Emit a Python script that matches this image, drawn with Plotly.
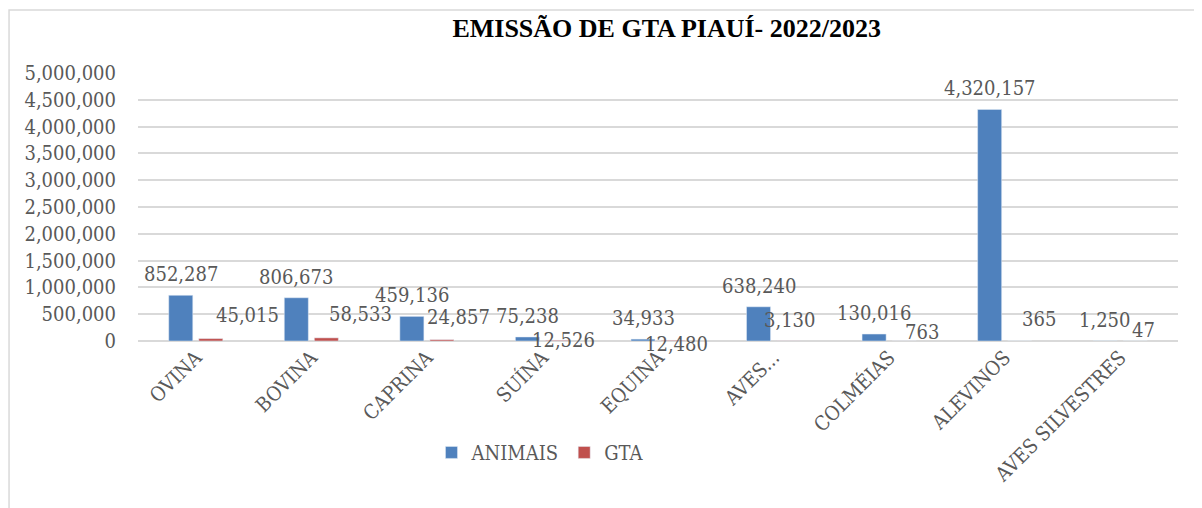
import plotly.graph_objects as go

categorias = ["OVINA", "BOVINA", "CAPRINA", "SUÍNA", "EQUINA", "AVES...",
              "COLMÉIAS", "ALEVINOS", "AVES SILVESTRES"]
animais = [852287, 806673, 459136, 75238, 34933, 638240, 130016, 4320157, 1250]
gta = [45015, 58533, 24857, 12526, 12480, 3130, 763, 365, 47]

y_ticks = list(range(0, 5000001, 500000))

# deslocamento (px) dos rótulos de GTA, como no original
gta_dx = [18, 16, -2, -12, -15, -12, 14, 15, 10]
gta_dy = [24, 24, 23, 0, -4, 21, 9, 22, 11]

font_serif = "DejaVu Serif Condensed, Liberation Serif, serif"
cinza = "#595959"
tam = 20

fig = go.Figure()

fig.add_trace(go.Bar(name="ANIMAIS", x=categorias, y=animais,
                     marker=dict(color="#4f81bd")))
fig.add_trace(go.Bar(name="GTA", x=categorias, y=gta,
                     marker=dict(color="#c0504d")))

# rótulos de dados
for cat, v in zip(categorias, animais):
    fig.add_annotation(x=cat, y=v, xref="x", yref="y", text=f"{v:,}",
                       showarrow=False, xshift=-15, yshift=21,
                       xanchor="center", yanchor="middle",
                       font=dict(family=font_serif, size=tam, color=cinza))

for cat, v, dx, dy in zip(categorias, gta, gta_dx, gta_dy):
    fig.add_annotation(x=cat, y=v, xref="x", yref="y", text=f"{v:,}",
                       showarrow=False, xshift=dx, yshift=dy,
                       xanchor="left", yanchor="middle",
                       font=dict(family=font_serif, size=tam, color=cinza))

fig.update_layout(
    width=1202, height=508,
    margin=dict(l=130, r=32, t=65, b=175),
    paper_bgcolor="white", plot_bgcolor="white",
    barmode="group", bargap=0.48, bargroupgap=0.2,
    title=dict(text="<b>EMISSÃO DE GTA PIAUÍ- 2022/2023</b>",
               x=0.548, xanchor="center", y=0.961, yanchor="middle",
               font=dict(family="Liberation Serif", size=26, color="black")),
    font=dict(family=font_serif, size=tam, color=cinza),
    showlegend=True,
    legend=dict(orientation="h", x=0.387, xanchor="center", y=-0.343, yanchor="top",
                font=dict(family="DejaVu Serif Condensed", size=tam, color=cinza),
                itemwidth=30, traceorder="normal"),
)

fig.update_yaxes(range=[0, 5000000], tickvals=y_ticks,
                 ticktext=[f"{v:,}" for v in y_ticks],
                 showgrid=True, gridcolor="#d9d9d9", gridwidth=1.5,
                 zeroline=True, zerolinecolor="#d9d9d9", zerolinewidth=1.5,
                 showline=False, ticks="", ticklabelstandoff=21,
                 tickfont=dict(family=font_serif, size=tam, color=cinza))

fig.update_xaxes(tickangle=-45, showline=False, ticks="",
                 tickfont=dict(family=font_serif, size=tam, color=cinza))

# moldura do gráfico
fig.add_shape(type="rect", xref="paper", yref="paper",
              x0=-0.124, x1=1.0163, y0=-0.7, y1=1.235,
              line=dict(color="#d9d9d9", width=1.5), layer="below")

fig.write_html("out.html")
